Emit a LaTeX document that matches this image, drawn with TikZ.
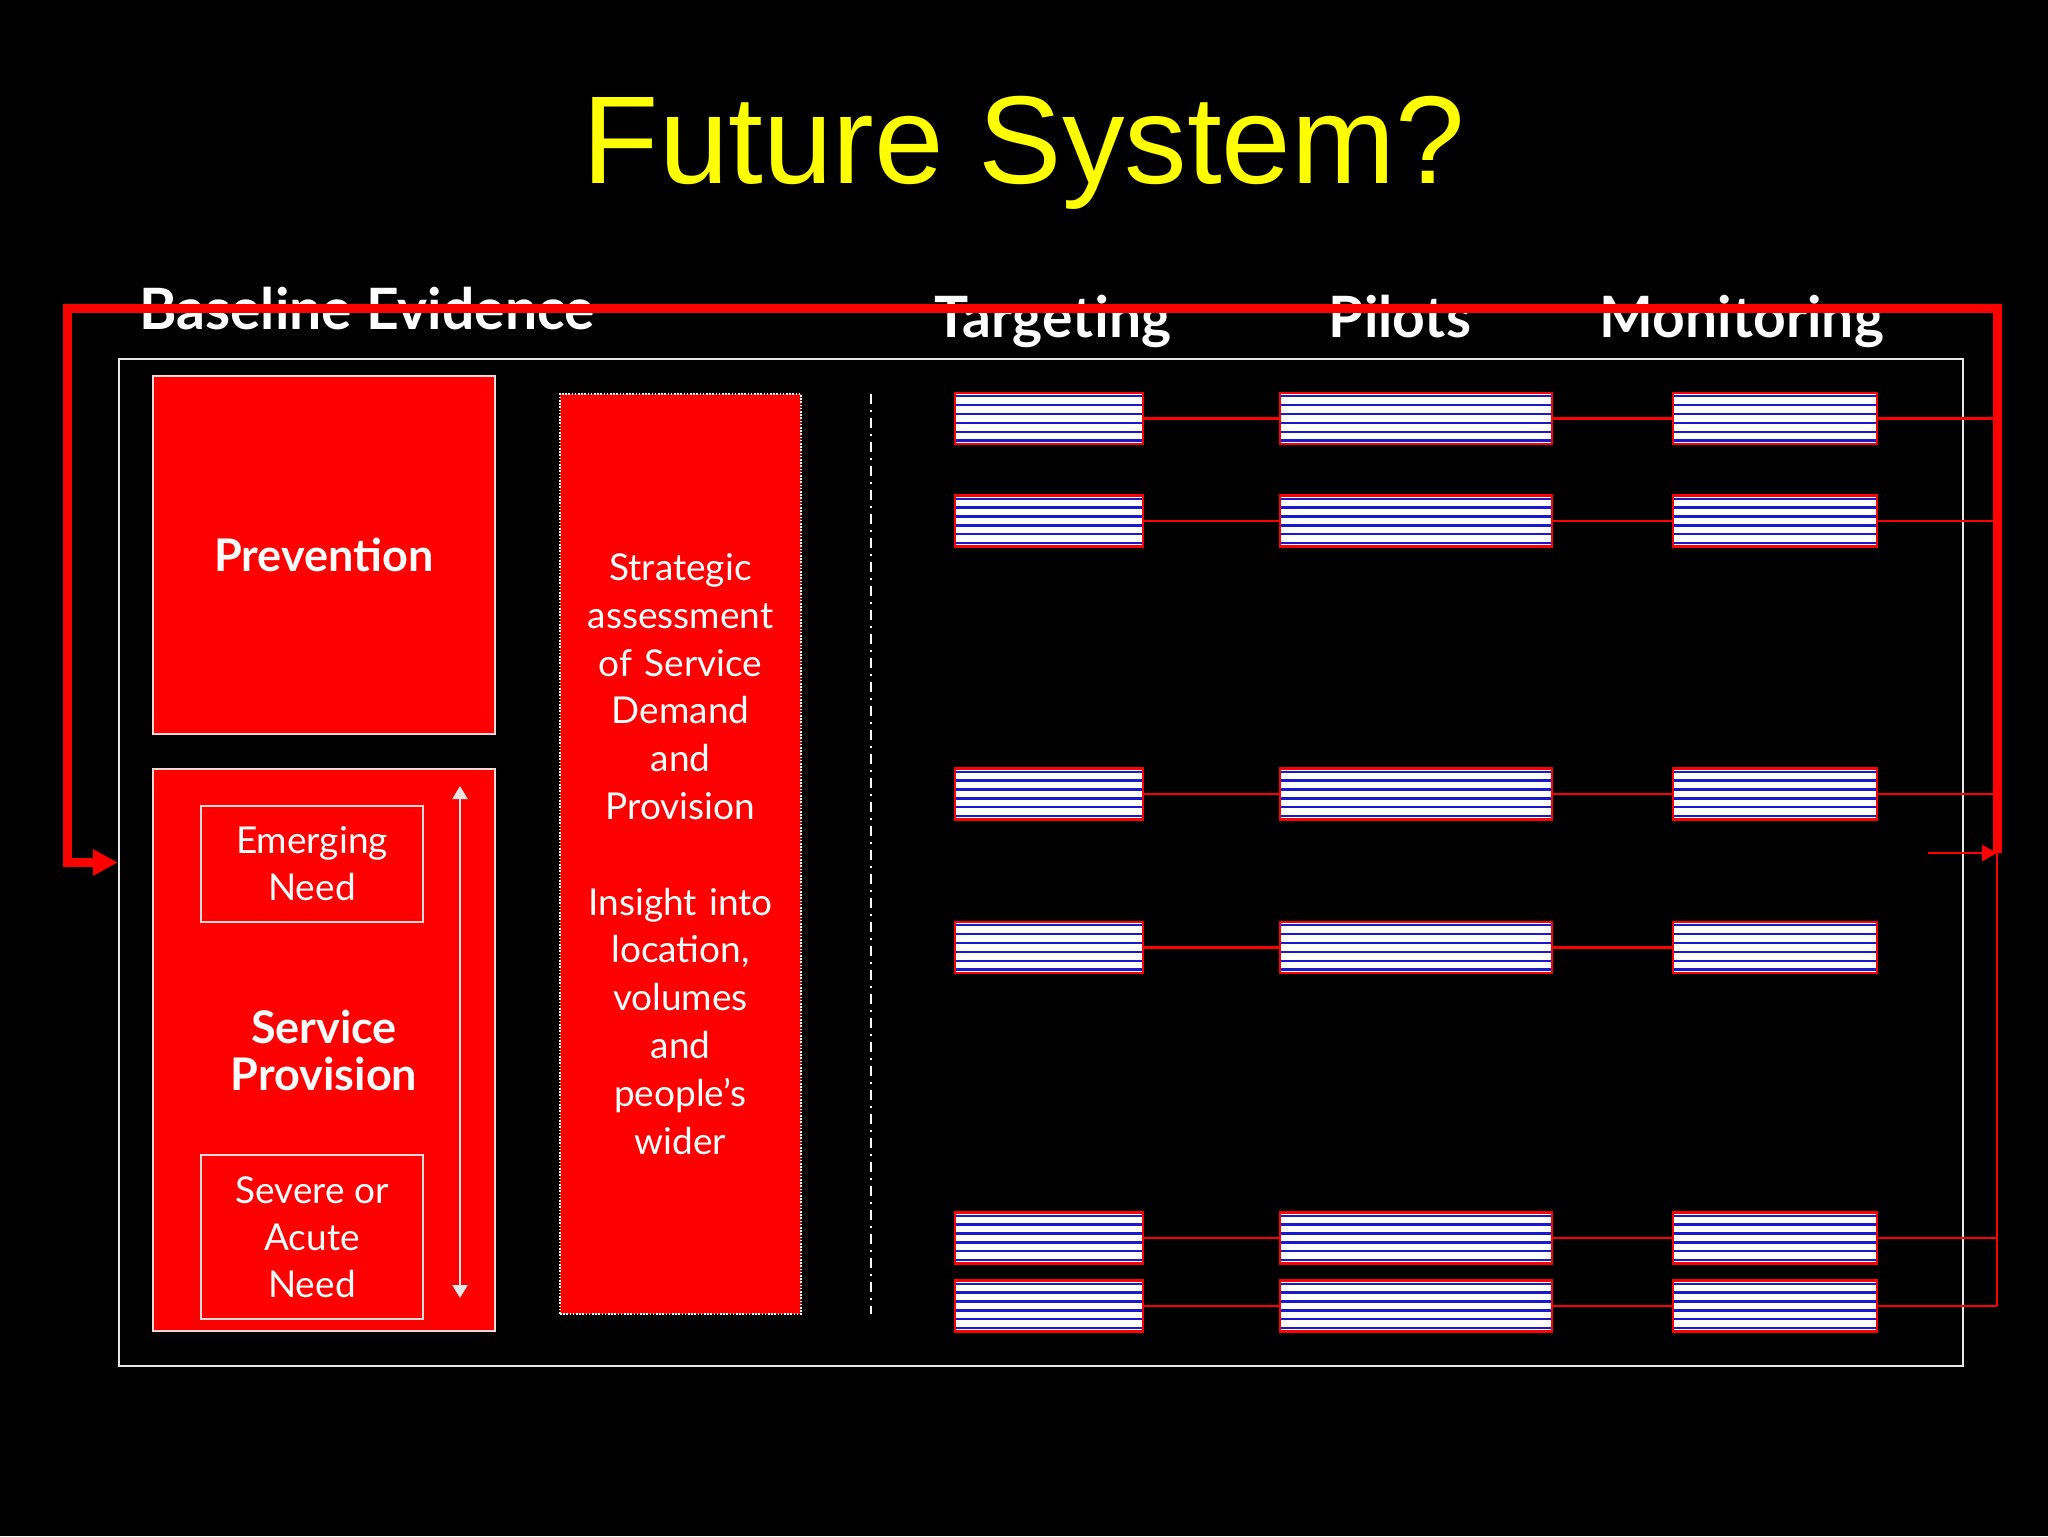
\documentclass[tikz,border=0pt]{standalone}
\usepackage{fontspec}
\setmainfont{Lato}
\newfontfamily\titlefont{Liberation Sans}
\usetikzlibrary{arrows.meta}
\definecolor{slidered}{RGB}{255,0,0}
\definecolor{stripeblue}{RGB}{25,25,205}
\definecolor{softwhite}{RGB}{230,230,230}
\definecolor{pinkline}{RGB}{255,215,215}
\definecolor{titleyellow}{RGB}{255,255,0}

\begin{document}
\begin{tikzpicture}[x=0.25pt,y=-0.25pt,
  redbox/.style={draw=pinkline,line width=0.5pt,fill=slidered,text=white,inner sep=0pt,align=center},
  needbox/.style={draw=pinkline,line width=0.5pt,text=white,inner sep=0pt,align=center,
    font=\fontsize{9.25pt}{11.75pt}\selectfont},
  head/.style={text=white,anchor=base,font=\fontsize{14.25pt}{16pt}\selectfont\bfseries},
  stripebox/.style={draw=slidered,line width=0.6pt,fill=white,minimum height=12.75pt,inner sep=0pt,
    path picture={\foreach \k in {0,...,5}
      \draw[stripeblue,line width=0.6pt]
        ([yshift=-0.8pt-\k*2.22pt]path picture bounding box.north west) --
        ([yshift=-0.8pt-\k*2.22pt]path picture bounding box.north east);}},
  link/.style={slidered,line width=0.6pt},
  loopline/.style={slidered,line width=2.25pt}]

\useasboundingbox (0,0) rectangle (2048,1536);
\fill[black] (0,0) rectangle (2048,1536);

\node[text=titleyellow,anchor=base,font=\titlefont\fontsize{31.25pt}{36pt}\selectfont] (title) at (1024,183) {Future System?};

% column headings
\node[head] (hbase) at (367,329) {Baseline Evidence};
\node[head] (htarget) at (1053,337) {Targeting};
\node[head] (hpilot) at (1400,337) {Pilots};
\node[head] (hmonitor) at (1742,337) {Monitoring};

\node[draw=softwhite,line width=0.6pt,minimum width=461pt,minimum height=251.75pt,inner sep=0pt] (frame) at (1041,862.5) {};

% baseline evidence
\node[redbox,minimum width=85.5pt,minimum height=89.5pt,font=\fontsize{11.25pt}{13pt}\selectfont\bfseries] (prev) at (324,555) {Prevention};
\node[redbox,minimum width=85.5pt,minimum height=140.5pt,font=\fontsize{11.25pt}{11.75pt}\selectfont\bfseries] (serv) at (324,1050) {Service\\Provision};
\node[needbox,minimum width=55.5pt,minimum height=29pt] (emerg) at (312,864) {Emerging\\Need};
\node[needbox,minimum width=55.5pt,minimum height=41pt] (acute) at (312,1237) {Severe or\\Acute\\Need};
\coordinate (spTop) at (460,786);
\coordinate (spBot) at (460,1298);
\draw[softwhite,line width=0.6pt,{Triangle[width=3.75pt,length=3.25pt]}-{Triangle[width=3.75pt,length=3.25pt]}] (spTop) -- (spBot);

\node[redbox,draw=white,dash pattern=on 0.4pt off 0.4pt,minimum width=60.25pt,minimum height=230pt,text width=60.25pt,
  font=\fontsize{9.25pt}{11.95pt}\selectfont] (strat) at (680.5,854)
  {Strategic\\assessment\\of Service\\Demand\\and\\Provision\\[11.95pt]Insight into\\location,\\volumes\\and\\people’s\\wider};

\coordinate (divTop) at (871,394);
\coordinate (divBot) at (871,1314);
\draw[white,line width=0.6pt,dash pattern=on 2.5pt off 1.5pt on 0.5pt off 1.5pt] (divTop) -- (divBot);

% rows of targeting / pilots / monitoring
\coordinate (loopR) at (1997,853);
\coordinate (loopTL) at (67,308);
\coordinate (loopIn) at (1928,853);
\foreach \r/\yy in {1/418.5,2/521,3/794,4/947.5,5/1238,6/1306}{
  \node[stripebox,minimum width=47pt] (t\r) at (1049,\yy) {};
  \node[stripebox,minimum width=68pt] (p\r) at (1416,\yy) {};
  \node[stripebox,minimum width=51pt] (m\r) at (1775,\yy) {};
  \draw[link] (t\r) -- (p\r) (p\r) -- (m\r);
}
\foreach \r in {1,2,3,5,6}
  \draw[link] (m\r) -- (m\r -| loopR);
\draw[link] (loopR) -- (m6 -| loopR);
\draw[link,-{Triangle[width=4pt,length=3.75pt]}] (loopIn) -- (loopR);

% feedback loop
\draw[loopline,-{Triangle[width=6.25pt,length=6.25pt]}] (loopR) |- (loopTL) |- (frame.west);
\end{tikzpicture}
\end{document}
